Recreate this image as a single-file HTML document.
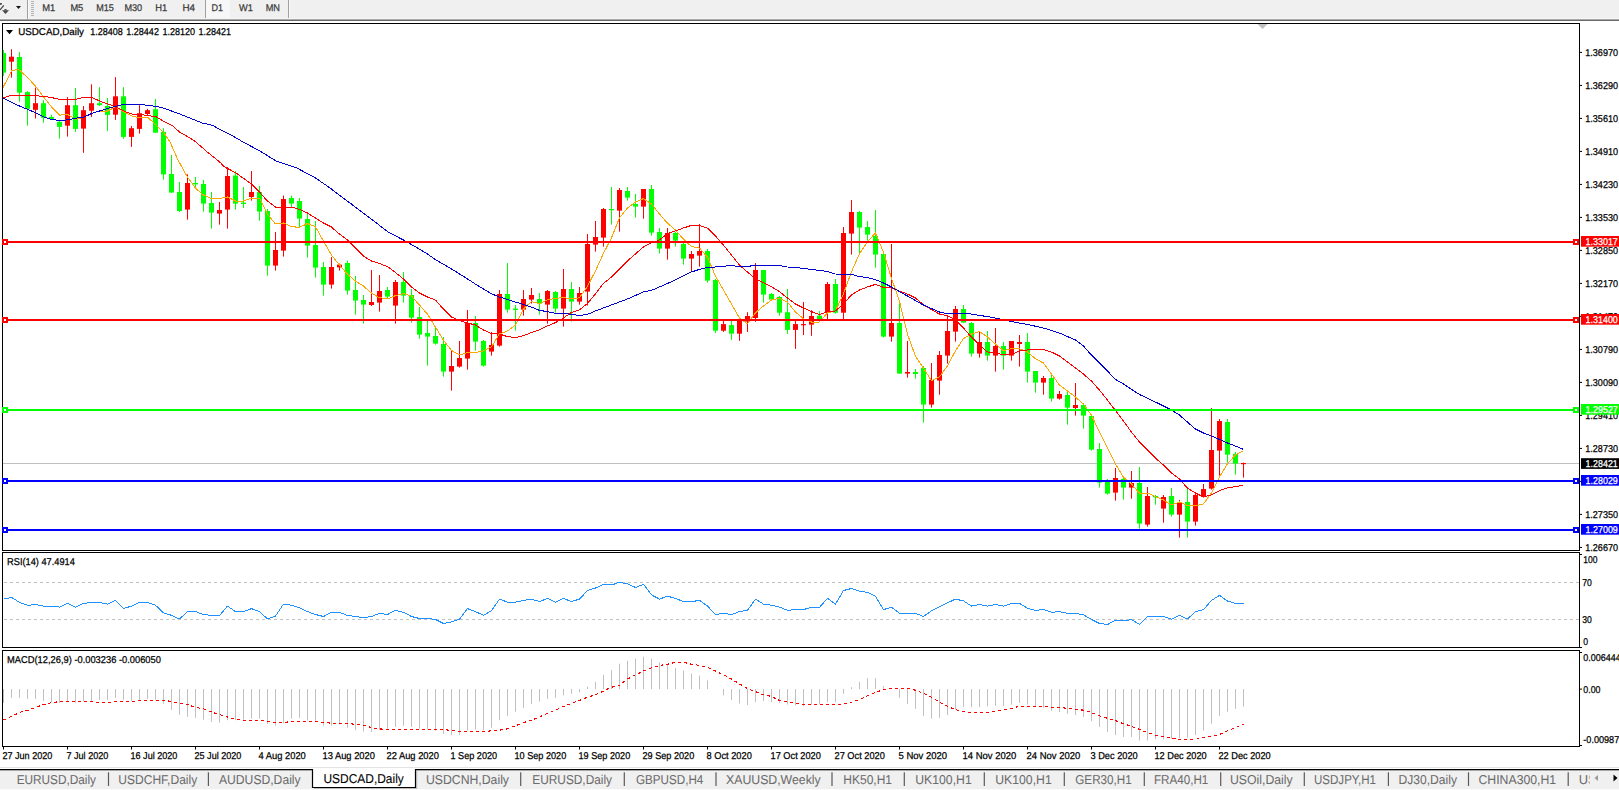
<!DOCTYPE html>
<html><head><meta charset="utf-8"><title>USDCAD,Daily</title>
<style>
html,body{margin:0;padding:0;background:#fff;}
body{width:1619px;height:790px;overflow:hidden;position:relative;font-family:"Liberation Sans", sans-serif;}
svg text{font-family:"Liberation Sans", sans-serif;text-rendering:geometricPrecision;}
</style></head><body>
<svg width="1619" height="790" viewBox="0 0 1619 790" style="position:absolute;left:0;top:0">
<rect x="0" y="0" width="1619" height="790" fill="#fff"/>
<rect x="0" y="0" width="1619" height="19" fill="#f0f0f0"/>
<rect x="0" y="18" width="1619" height="1" fill="#f6f6f6"/>
<rect x="0" y="19" width="1619" height="1" fill="#a8a8a8"/>
<rect x="0" y="20" width="1619" height="1" fill="#6a6a6a"/>
<rect x="27" y="0" width="1" height="19" fill="#a0a0a0"/>
<rect x="31" y="1" width="3" height="1" fill="#b4b4b4"/>
<rect x="31" y="3" width="3" height="1" fill="#b4b4b4"/>
<rect x="31" y="5" width="3" height="1" fill="#b4b4b4"/>
<rect x="31" y="7" width="3" height="1" fill="#b4b4b4"/>
<rect x="31" y="9" width="3" height="1" fill="#b4b4b4"/>
<rect x="31" y="11" width="3" height="1" fill="#b4b4b4"/>
<rect x="31" y="13" width="3" height="1" fill="#b4b4b4"/>
<rect x="31" y="15" width="3" height="1" fill="#b4b4b4"/>
<rect x="205" y="0" width="1" height="18" fill="#a0a0a0"/>
<rect x="288" y="0" width="1" height="18" fill="#a0a0a0"/>
<rect x="206" y="0" width="24" height="18" fill="#f7f7f7"/>
<rect x="0" y="3" width="1.8" height="1.8" fill="#4a4a4a"/>
<path d="M3.8,5.3 L0,9.9" stroke="#444" stroke-width="1.3" fill="none"/>
<path d="M2,10.2 L9,10.2 L5.5,14.1 Z" fill="#484848"/>
<rect x="4.4" y="9.1" width="2.3" height="1.2" fill="#484848"/>
<rect x="28" y="0" width="1" height="18" fill="#fafafa"/>
<rect x="289" y="0" width="1" height="18" fill="#fafafa"/>
<path d="M16,6 L21,6 L18.5,9 Z" fill="#111"/>
<defs><clipPath id="cm"><rect x="3" y="24" width="1576" height="526"/></clipPath></defs>
<g clip-path="url(#cm)">
<rect x="3" y="463" width="1576" height="1" fill="#c0c0c0"/>
<rect x="3.0" y="50.0" width="1" height="25.9" fill="#00ff00"/>
<rect x="1.0" y="53.0" width="5" height="19.6" fill="#00ff00"/>
<rect x="11.0" y="49.2" width="1" height="28.4" fill="#ff0000"/>
<rect x="9.0" y="56.7" width="5" height="5.0" fill="#ff0000"/>
<rect x="19.0" y="52.0" width="1" height="49.8" fill="#00ff00"/>
<rect x="17.0" y="57.0" width="5" height="35.6" fill="#00ff00"/>
<rect x="27.0" y="91.0" width="1" height="34.7" fill="#00ff00"/>
<rect x="25.0" y="92.1" width="5" height="16.7" fill="#00ff00"/>
<rect x="35.0" y="87.6" width="1" height="30.9" fill="#ff0000"/>
<rect x="33.0" y="103.2" width="5" height="6.6" fill="#ff0000"/>
<rect x="43.0" y="100.2" width="1" height="22.5" fill="#00ff00"/>
<rect x="41.0" y="103.2" width="5" height="14.5" fill="#00ff00"/>
<rect x="51.0" y="114.9" width="1" height="4.3" fill="#00ff00"/>
<rect x="49.0" y="116.9" width="5" height="2.0" fill="#00ff00"/>
<rect x="59.0" y="119.9" width="1" height="18.7" fill="#00ff00"/>
<rect x="57.0" y="121.9" width="5" height="5.0" fill="#00ff00"/>
<rect x="67.0" y="97.1" width="1" height="39.5" fill="#ff0000"/>
<rect x="65.0" y="105.2" width="5" height="20.5" fill="#ff0000"/>
<rect x="75.0" y="88.1" width="1" height="43.8" fill="#00ff00"/>
<rect x="73.0" y="105.2" width="5" height="23.7" fill="#00ff00"/>
<rect x="83.0" y="106.0" width="1" height="46.8" fill="#ff0000"/>
<rect x="81.0" y="110.2" width="5" height="18.4" fill="#ff0000"/>
<rect x="91.0" y="84.3" width="1" height="32.6" fill="#ff0000"/>
<rect x="89.0" y="103.2" width="5" height="7.5" fill="#ff0000"/>
<rect x="99.0" y="87.1" width="1" height="18.9" fill="#00ff00"/>
<rect x="97.0" y="103.2" width="5" height="2.0" fill="#00ff00"/>
<rect x="107.0" y="98.1" width="1" height="33.0" fill="#00ff00"/>
<rect x="105.0" y="106.0" width="5" height="8.9" fill="#00ff00"/>
<rect x="115.0" y="77.1" width="1" height="42.8" fill="#ff0000"/>
<rect x="113.0" y="96.3" width="5" height="18.4" fill="#ff0000"/>
<rect x="123.0" y="87.1" width="1" height="51.8" fill="#00ff00"/>
<rect x="121.0" y="96.3" width="5" height="40.6" fill="#00ff00"/>
<rect x="131.0" y="126.0" width="1" height="20.9" fill="#ff0000"/>
<rect x="129.0" y="128.2" width="5" height="8.7" fill="#ff0000"/>
<rect x="139.0" y="105.2" width="1" height="28.4" fill="#ff0000"/>
<rect x="137.0" y="113.2" width="5" height="15.7" fill="#ff0000"/>
<rect x="147.0" y="108.8" width="1" height="6.1" fill="#ff0000"/>
<rect x="145.0" y="110.2" width="5" height="3.8" fill="#ff0000"/>
<rect x="155.0" y="99.0" width="1" height="33.7" fill="#00ff00"/>
<rect x="153.0" y="109.3" width="5" height="23.4" fill="#00ff00"/>
<rect x="163.0" y="128.2" width="1" height="51.4" fill="#00ff00"/>
<rect x="161.0" y="131.9" width="5" height="42.5" fill="#00ff00"/>
<rect x="171.0" y="155.0" width="1" height="37.6" fill="#00ff00"/>
<rect x="169.0" y="174.0" width="5" height="18.6" fill="#00ff00"/>
<rect x="179.0" y="182.0" width="1" height="30.0" fill="#00ff00"/>
<rect x="177.0" y="192.0" width="5" height="19.0" fill="#00ff00"/>
<rect x="187.0" y="174.4" width="1" height="45.2" fill="#ff0000"/>
<rect x="185.0" y="183.0" width="5" height="26.6" fill="#ff0000"/>
<rect x="195.0" y="177.0" width="1" height="11.0" fill="#00ff00"/>
<rect x="193.0" y="183.0" width="5" height="1.4" fill="#00ff00"/>
<rect x="203.0" y="180.0" width="1" height="31.6" fill="#00ff00"/>
<rect x="201.0" y="184.0" width="5" height="19.6" fill="#00ff00"/>
<rect x="211.0" y="192.0" width="1" height="36.6" fill="#00ff00"/>
<rect x="209.0" y="203.0" width="5" height="9.6" fill="#00ff00"/>
<rect x="219.0" y="202.0" width="1" height="22.6" fill="#ff0000"/>
<rect x="217.0" y="210.0" width="5" height="3.6" fill="#ff0000"/>
<rect x="227.0" y="167.0" width="1" height="61.6" fill="#ff0000"/>
<rect x="225.0" y="176.0" width="5" height="33.6" fill="#ff0000"/>
<rect x="235.0" y="171.0" width="1" height="38.6" fill="#00ff00"/>
<rect x="233.0" y="175.6" width="5" height="28.0" fill="#00ff00"/>
<rect x="243.0" y="187.0" width="1" height="21.0" fill="#00ff00"/>
<rect x="241.0" y="202.6" width="5" height="1.4" fill="#00ff00"/>
<rect x="251.0" y="171.0" width="1" height="29.6" fill="#ff0000"/>
<rect x="249.0" y="192.0" width="5" height="5.0" fill="#ff0000"/>
<rect x="259.0" y="186.0" width="1" height="34.6" fill="#00ff00"/>
<rect x="257.0" y="192.0" width="5" height="19.6" fill="#00ff00"/>
<rect x="267.0" y="209.0" width="1" height="66.6" fill="#00ff00"/>
<rect x="265.0" y="211.0" width="5" height="54.6" fill="#00ff00"/>
<rect x="275.0" y="232.0" width="1" height="38.6" fill="#ff0000"/>
<rect x="273.0" y="250.0" width="5" height="15.6" fill="#ff0000"/>
<rect x="283.0" y="195.6" width="1" height="61.0" fill="#ff0000"/>
<rect x="281.0" y="199.0" width="5" height="51.6" fill="#ff0000"/>
<rect x="291.0" y="195.6" width="1" height="11.4" fill="#00ff00"/>
<rect x="289.0" y="198.0" width="5" height="5.6" fill="#00ff00"/>
<rect x="299.0" y="198.0" width="1" height="29.0" fill="#00ff00"/>
<rect x="297.0" y="201.0" width="5" height="17.6" fill="#00ff00"/>
<rect x="307.0" y="214.0" width="1" height="43.6" fill="#00ff00"/>
<rect x="305.0" y="219.0" width="5" height="26.6" fill="#00ff00"/>
<rect x="315.0" y="221.0" width="1" height="56.6" fill="#00ff00"/>
<rect x="313.0" y="245.0" width="5" height="22.6" fill="#00ff00"/>
<rect x="323.0" y="262.0" width="1" height="33.6" fill="#00ff00"/>
<rect x="321.0" y="267.0" width="5" height="17.6" fill="#00ff00"/>
<rect x="331.0" y="257.0" width="1" height="31.6" fill="#ff0000"/>
<rect x="329.0" y="267.0" width="5" height="17.6" fill="#ff0000"/>
<rect x="339.0" y="263.6" width="1" height="7.0" fill="#ff0000"/>
<rect x="337.0" y="264.6" width="5" height="2.8" fill="#ff0000"/>
<rect x="347.0" y="260.6" width="1" height="34.0" fill="#00ff00"/>
<rect x="345.0" y="263.0" width="5" height="27.6" fill="#00ff00"/>
<rect x="355.0" y="276.0" width="1" height="38.6" fill="#00ff00"/>
<rect x="353.0" y="290.0" width="5" height="10.6" fill="#00ff00"/>
<rect x="363.0" y="295.0" width="1" height="28.6" fill="#00ff00"/>
<rect x="361.0" y="300.0" width="5" height="4.6" fill="#00ff00"/>
<rect x="371.0" y="270.0" width="1" height="36.0" fill="#ff0000"/>
<rect x="369.0" y="302.0" width="5" height="3.0" fill="#ff0000"/>
<rect x="379.0" y="275.0" width="1" height="36.6" fill="#ff0000"/>
<rect x="377.0" y="291.0" width="5" height="11.6" fill="#ff0000"/>
<rect x="387.0" y="287.0" width="1" height="11.6" fill="#00ff00"/>
<rect x="385.0" y="290.0" width="5" height="6.6" fill="#00ff00"/>
<rect x="395.0" y="280.0" width="1" height="43.6" fill="#ff0000"/>
<rect x="393.0" y="282.0" width="5" height="23.6" fill="#ff0000"/>
<rect x="403.0" y="272.0" width="1" height="30.6" fill="#00ff00"/>
<rect x="401.0" y="282.0" width="5" height="13.6" fill="#00ff00"/>
<rect x="411.0" y="289.0" width="1" height="33.6" fill="#00ff00"/>
<rect x="409.0" y="295.0" width="5" height="22.6" fill="#00ff00"/>
<rect x="419.0" y="307.0" width="1" height="31.6" fill="#00ff00"/>
<rect x="417.0" y="317.0" width="5" height="17.6" fill="#00ff00"/>
<rect x="427.0" y="320.0" width="1" height="45.6" fill="#00ff00"/>
<rect x="425.0" y="333.0" width="5" height="3.6" fill="#00ff00"/>
<rect x="435.0" y="327.0" width="1" height="17.6" fill="#00ff00"/>
<rect x="433.0" y="336.0" width="5" height="7.6" fill="#00ff00"/>
<rect x="443.0" y="337.0" width="1" height="39.6" fill="#00ff00"/>
<rect x="441.0" y="344.0" width="5" height="27.6" fill="#00ff00"/>
<rect x="451.0" y="351.0" width="1" height="39.6" fill="#ff0000"/>
<rect x="449.0" y="366.0" width="5" height="5.6" fill="#ff0000"/>
<rect x="459.0" y="341.0" width="1" height="26.6" fill="#ff0000"/>
<rect x="457.0" y="358.0" width="5" height="8.6" fill="#ff0000"/>
<rect x="467.0" y="310.0" width="1" height="59.6" fill="#ff0000"/>
<rect x="465.0" y="323.0" width="5" height="35.6" fill="#ff0000"/>
<rect x="475.0" y="316.0" width="1" height="34.6" fill="#00ff00"/>
<rect x="473.0" y="323.0" width="5" height="18.6" fill="#00ff00"/>
<rect x="483.0" y="340.0" width="1" height="26.6" fill="#00ff00"/>
<rect x="481.0" y="341.0" width="5" height="24.6" fill="#00ff00"/>
<rect x="491.0" y="332.0" width="1" height="23.6" fill="#ff0000"/>
<rect x="489.0" y="345.0" width="5" height="6.6" fill="#ff0000"/>
<rect x="499.0" y="290.0" width="1" height="56.6" fill="#ff0000"/>
<rect x="497.0" y="294.0" width="5" height="51.6" fill="#ff0000"/>
<rect x="507.0" y="263.0" width="1" height="49.6" fill="#00ff00"/>
<rect x="505.0" y="294.0" width="5" height="15.6" fill="#00ff00"/>
<rect x="515.0" y="305.0" width="1" height="25.6" fill="#00ff00"/>
<rect x="513.0" y="308.6" width="5" height="1.4" fill="#00ff00"/>
<rect x="523.0" y="290.0" width="1" height="25.6" fill="#ff0000"/>
<rect x="521.0" y="299.0" width="5" height="10.6" fill="#ff0000"/>
<rect x="531.0" y="288.0" width="1" height="15.6" fill="#ff0000"/>
<rect x="529.0" y="295.0" width="5" height="4.6" fill="#ff0000"/>
<rect x="539.0" y="293.0" width="1" height="21.6" fill="#00ff00"/>
<rect x="537.0" y="299.0" width="5" height="4.6" fill="#00ff00"/>
<rect x="547.0" y="290.0" width="1" height="33.6" fill="#ff0000"/>
<rect x="545.0" y="291.0" width="5" height="13.6" fill="#ff0000"/>
<rect x="555.0" y="291.0" width="1" height="21.6" fill="#00ff00"/>
<rect x="553.0" y="292.0" width="5" height="16.6" fill="#00ff00"/>
<rect x="563.0" y="269.0" width="1" height="57.6" fill="#ff0000"/>
<rect x="561.0" y="289.0" width="5" height="19.6" fill="#ff0000"/>
<rect x="571.0" y="282.0" width="1" height="39.6" fill="#00ff00"/>
<rect x="569.0" y="289.0" width="5" height="12.6" fill="#00ff00"/>
<rect x="579.0" y="287.0" width="1" height="17.6" fill="#ff0000"/>
<rect x="577.0" y="293.0" width="5" height="8.6" fill="#ff0000"/>
<rect x="587.0" y="234.0" width="1" height="71.6" fill="#ff0000"/>
<rect x="585.0" y="244.0" width="5" height="47.6" fill="#ff0000"/>
<rect x="595.0" y="221.0" width="1" height="30.6" fill="#ff0000"/>
<rect x="593.0" y="237.0" width="5" height="7.6" fill="#ff0000"/>
<rect x="603.0" y="208.0" width="1" height="38.6" fill="#ff0000"/>
<rect x="601.0" y="209.0" width="5" height="28.6" fill="#ff0000"/>
<rect x="611.0" y="187.0" width="1" height="37.6" fill="#00ff00"/>
<rect x="609.0" y="209.0" width="5" height="1.2" fill="#00ff00"/>
<rect x="619.0" y="188.0" width="1" height="43.6" fill="#ff0000"/>
<rect x="617.0" y="190.0" width="5" height="20.6" fill="#ff0000"/>
<rect x="627.0" y="187.0" width="1" height="13.6" fill="#00ff00"/>
<rect x="625.0" y="191.0" width="5" height="6.6" fill="#00ff00"/>
<rect x="635.0" y="194.0" width="1" height="23.6" fill="#00ff00"/>
<rect x="633.0" y="204.0" width="5" height="2.6" fill="#00ff00"/>
<rect x="643.0" y="189.0" width="1" height="29.6" fill="#ff0000"/>
<rect x="641.0" y="189.0" width="5" height="17.6" fill="#ff0000"/>
<rect x="651.0" y="185.0" width="1" height="50.6" fill="#00ff00"/>
<rect x="649.0" y="189.0" width="5" height="43.6" fill="#00ff00"/>
<rect x="659.0" y="228.0" width="1" height="25.6" fill="#00ff00"/>
<rect x="657.0" y="232.0" width="5" height="16.6" fill="#00ff00"/>
<rect x="667.0" y="228.0" width="1" height="31.6" fill="#ff0000"/>
<rect x="665.0" y="233.0" width="5" height="15.6" fill="#ff0000"/>
<rect x="675.0" y="232.0" width="1" height="14.6" fill="#00ff00"/>
<rect x="673.0" y="233.0" width="5" height="7.6" fill="#00ff00"/>
<rect x="683.0" y="243.0" width="1" height="21.6" fill="#00ff00"/>
<rect x="681.0" y="244.0" width="5" height="14.6" fill="#00ff00"/>
<rect x="691.0" y="251.0" width="1" height="20.6" fill="#ff0000"/>
<rect x="689.0" y="254.0" width="5" height="4.6" fill="#ff0000"/>
<rect x="699.0" y="224.0" width="1" height="42.6" fill="#ff0000"/>
<rect x="697.0" y="251.0" width="5" height="4.6" fill="#ff0000"/>
<rect x="707.0" y="249.0" width="1" height="33.6" fill="#00ff00"/>
<rect x="705.0" y="251.0" width="5" height="29.6" fill="#00ff00"/>
<rect x="715.0" y="279.0" width="1" height="53.9" fill="#00ff00"/>
<rect x="713.0" y="280.0" width="5" height="50.7" fill="#00ff00"/>
<rect x="723.0" y="320.8" width="1" height="11.1" fill="#ff0000"/>
<rect x="721.0" y="324.1" width="5" height="6.6" fill="#ff0000"/>
<rect x="731.0" y="320.8" width="1" height="19.0" fill="#00ff00"/>
<rect x="729.0" y="325.1" width="5" height="8.6" fill="#00ff00"/>
<rect x="739.0" y="318.0" width="1" height="22.8" fill="#ff0000"/>
<rect x="737.0" y="319.3" width="5" height="14.4" fill="#ff0000"/>
<rect x="747.0" y="312.2" width="1" height="19.7" fill="#ff0000"/>
<rect x="745.0" y="316.0" width="5" height="5.6" fill="#ff0000"/>
<rect x="755.0" y="263.0" width="1" height="58.8" fill="#ff0000"/>
<rect x="753.0" y="270.0" width="5" height="48.0" fill="#ff0000"/>
<rect x="763.0" y="270.0" width="1" height="32.6" fill="#00ff00"/>
<rect x="761.0" y="270.0" width="5" height="24.6" fill="#00ff00"/>
<rect x="771.0" y="293.0" width="1" height="7.6" fill="#00ff00"/>
<rect x="769.0" y="294.0" width="5" height="5.6" fill="#00ff00"/>
<rect x="779.0" y="296.0" width="1" height="19.7" fill="#00ff00"/>
<rect x="777.0" y="297.0" width="5" height="15.7" fill="#00ff00"/>
<rect x="787.0" y="289.0" width="1" height="44.9" fill="#00ff00"/>
<rect x="785.0" y="312.2" width="5" height="17.7" fill="#00ff00"/>
<rect x="795.0" y="320.8" width="1" height="28.1" fill="#ff0000"/>
<rect x="793.0" y="324.1" width="5" height="5.8" fill="#ff0000"/>
<rect x="803.0" y="302.0" width="1" height="33.0" fill="#ff0000"/>
<rect x="801.0" y="324.1" width="5" height="1.2" fill="#ff0000"/>
<rect x="811.0" y="310.1" width="1" height="25.7" fill="#ff0000"/>
<rect x="809.0" y="316.0" width="5" height="8.6" fill="#ff0000"/>
<rect x="819.0" y="311.1" width="1" height="8.5" fill="#00ff00"/>
<rect x="817.0" y="315.7" width="5" height="3.9" fill="#00ff00"/>
<rect x="827.0" y="282.0" width="1" height="37.0" fill="#ff0000"/>
<rect x="825.0" y="284.0" width="5" height="28.2" fill="#ff0000"/>
<rect x="835.0" y="279.0" width="1" height="34.7" fill="#00ff00"/>
<rect x="833.0" y="284.0" width="5" height="28.7" fill="#00ff00"/>
<rect x="843.0" y="227.0" width="1" height="92.0" fill="#ff0000"/>
<rect x="841.0" y="233.0" width="5" height="79.7" fill="#ff0000"/>
<rect x="851.0" y="200.0" width="1" height="54.6" fill="#ff0000"/>
<rect x="849.0" y="212.0" width="5" height="21.6" fill="#ff0000"/>
<rect x="859.0" y="211.0" width="1" height="42.6" fill="#00ff00"/>
<rect x="857.0" y="212.0" width="5" height="15.6" fill="#00ff00"/>
<rect x="867.0" y="221.0" width="1" height="19.6" fill="#00ff00"/>
<rect x="865.0" y="227.0" width="5" height="7.6" fill="#00ff00"/>
<rect x="875.0" y="210.0" width="1" height="57.6" fill="#00ff00"/>
<rect x="873.0" y="236.0" width="5" height="18.6" fill="#00ff00"/>
<rect x="883.0" y="254.0" width="1" height="83.6" fill="#00ff00"/>
<rect x="881.0" y="254.0" width="5" height="82.6" fill="#00ff00"/>
<rect x="891.0" y="244.0" width="1" height="97.6" fill="#ff0000"/>
<rect x="889.0" y="323.0" width="5" height="13.6" fill="#ff0000"/>
<rect x="899.0" y="302.0" width="1" height="71.6" fill="#00ff00"/>
<rect x="897.0" y="323.0" width="5" height="50.6" fill="#00ff00"/>
<rect x="907.0" y="341.0" width="1" height="36.6" fill="#ff0000"/>
<rect x="905.0" y="372.0" width="5" height="1.6" fill="#ff0000"/>
<rect x="915.0" y="369.0" width="1" height="9.6" fill="#00ff00"/>
<rect x="913.0" y="372.0" width="5" height="2.0" fill="#00ff00"/>
<rect x="923.0" y="366.0" width="1" height="56.6" fill="#00ff00"/>
<rect x="921.0" y="368.0" width="5" height="36.6" fill="#00ff00"/>
<rect x="931.0" y="363.0" width="1" height="44.6" fill="#ff0000"/>
<rect x="929.0" y="380.0" width="5" height="24.6" fill="#ff0000"/>
<rect x="939.0" y="351.0" width="1" height="43.6" fill="#ff0000"/>
<rect x="937.0" y="355.0" width="5" height="25.6" fill="#ff0000"/>
<rect x="947.0" y="315.0" width="1" height="48.6" fill="#ff0000"/>
<rect x="945.0" y="331.0" width="5" height="24.6" fill="#ff0000"/>
<rect x="955.0" y="306.0" width="1" height="35.6" fill="#ff0000"/>
<rect x="953.0" y="309.0" width="5" height="22.6" fill="#ff0000"/>
<rect x="963.0" y="305.0" width="1" height="17.6" fill="#00ff00"/>
<rect x="961.0" y="309.0" width="5" height="13.6" fill="#00ff00"/>
<rect x="971.0" y="322.0" width="1" height="34.6" fill="#00ff00"/>
<rect x="969.0" y="323.0" width="5" height="30.6" fill="#00ff00"/>
<rect x="979.0" y="331.0" width="1" height="26.6" fill="#ff0000"/>
<rect x="977.0" y="342.0" width="5" height="11.6" fill="#ff0000"/>
<rect x="987.0" y="331.0" width="1" height="29.6" fill="#00ff00"/>
<rect x="985.0" y="342.0" width="5" height="13.6" fill="#00ff00"/>
<rect x="995.0" y="328.0" width="1" height="43.6" fill="#ff0000"/>
<rect x="993.0" y="346.0" width="5" height="9.6" fill="#ff0000"/>
<rect x="1003.0" y="342.0" width="1" height="27.6" fill="#00ff00"/>
<rect x="1001.0" y="346.0" width="5" height="9.6" fill="#00ff00"/>
<rect x="1011.0" y="341.0" width="1" height="19.6" fill="#ff0000"/>
<rect x="1009.0" y="341.0" width="5" height="14.6" fill="#ff0000"/>
<rect x="1019.0" y="335.0" width="1" height="31.6" fill="#ff0000"/>
<rect x="1017.0" y="342.0" width="5" height="2.0" fill="#ff0000"/>
<rect x="1027.0" y="333.0" width="1" height="49.6" fill="#00ff00"/>
<rect x="1025.0" y="342.0" width="5" height="29.6" fill="#00ff00"/>
<rect x="1035.0" y="371.0" width="1" height="21.6" fill="#00ff00"/>
<rect x="1033.0" y="371.0" width="5" height="11.6" fill="#00ff00"/>
<rect x="1043.0" y="376.0" width="1" height="18.6" fill="#ff0000"/>
<rect x="1041.0" y="378.0" width="5" height="4.6" fill="#ff0000"/>
<rect x="1051.0" y="375.0" width="1" height="26.6" fill="#00ff00"/>
<rect x="1049.0" y="378.0" width="5" height="20.6" fill="#00ff00"/>
<rect x="1059.0" y="391.0" width="1" height="8.6" fill="#ff0000"/>
<rect x="1057.0" y="394.0" width="5" height="4.6" fill="#ff0000"/>
<rect x="1067.0" y="390.0" width="1" height="34.6" fill="#00ff00"/>
<rect x="1065.0" y="395.0" width="5" height="12.6" fill="#00ff00"/>
<rect x="1075.0" y="383.0" width="1" height="32.6" fill="#ff0000"/>
<rect x="1073.0" y="405.0" width="5" height="3.0" fill="#ff0000"/>
<rect x="1083.0" y="405.0" width="1" height="23.6" fill="#00ff00"/>
<rect x="1081.0" y="405.0" width="5" height="10.6" fill="#00ff00"/>
<rect x="1091.0" y="416.0" width="1" height="34.6" fill="#00ff00"/>
<rect x="1089.0" y="416.0" width="5" height="33.6" fill="#00ff00"/>
<rect x="1099.0" y="443.0" width="1" height="44.6" fill="#00ff00"/>
<rect x="1097.0" y="449.0" width="5" height="33.6" fill="#00ff00"/>
<rect x="1107.0" y="479.0" width="1" height="15.6" fill="#00ff00"/>
<rect x="1105.0" y="481.0" width="5" height="12.6" fill="#00ff00"/>
<rect x="1115.0" y="468.0" width="1" height="32.6" fill="#ff0000"/>
<rect x="1113.0" y="478.0" width="5" height="14.6" fill="#ff0000"/>
<rect x="1123.0" y="477.0" width="1" height="22.6" fill="#00ff00"/>
<rect x="1121.0" y="479.0" width="5" height="8.6" fill="#00ff00"/>
<rect x="1131.0" y="471.0" width="1" height="27.6" fill="#ff0000"/>
<rect x="1129.0" y="483.0" width="5" height="4.6" fill="#ff0000"/>
<rect x="1139.0" y="467.0" width="1" height="61.6" fill="#00ff00"/>
<rect x="1137.0" y="483.0" width="5" height="40.6" fill="#00ff00"/>
<rect x="1147.0" y="487.0" width="1" height="39.6" fill="#ff0000"/>
<rect x="1145.0" y="496.0" width="5" height="28.6" fill="#ff0000"/>
<rect x="1155.0" y="495.0" width="1" height="9.6" fill="#00ff00"/>
<rect x="1153.0" y="496.0" width="5" height="1.4" fill="#00ff00"/>
<rect x="1163.0" y="495.0" width="1" height="27.6" fill="#ff0000"/>
<rect x="1161.0" y="497.0" width="5" height="11.6" fill="#ff0000"/>
<rect x="1171.0" y="488.0" width="1" height="28.6" fill="#00ff00"/>
<rect x="1169.0" y="496.0" width="5" height="18.6" fill="#00ff00"/>
<rect x="1179.0" y="500.0" width="1" height="37.6" fill="#ff0000"/>
<rect x="1177.0" y="502.0" width="5" height="12.6" fill="#ff0000"/>
<rect x="1187.0" y="489.0" width="1" height="48.6" fill="#00ff00"/>
<rect x="1185.0" y="502.0" width="5" height="19.6" fill="#00ff00"/>
<rect x="1195.0" y="492.0" width="1" height="33.6" fill="#ff0000"/>
<rect x="1193.0" y="495.0" width="5" height="26.6" fill="#ff0000"/>
<rect x="1203.0" y="484.0" width="1" height="13.6" fill="#ff0000"/>
<rect x="1201.0" y="489.0" width="5" height="7.6" fill="#ff0000"/>
<rect x="1211.0" y="408.0" width="1" height="81.6" fill="#ff0000"/>
<rect x="1209.0" y="450.0" width="5" height="38.6" fill="#ff0000"/>
<rect x="1219.0" y="419.0" width="1" height="56.6" fill="#ff0000"/>
<rect x="1217.0" y="421.0" width="5" height="29.6" fill="#ff0000"/>
<rect x="1227.0" y="419.0" width="1" height="43.6" fill="#00ff00"/>
<rect x="1225.0" y="422.0" width="5" height="32.6" fill="#00ff00"/>
<rect x="1235.0" y="452.0" width="1" height="22.6" fill="#00ff00"/>
<rect x="1233.0" y="454.0" width="5" height="9.6" fill="#00ff00"/>
<rect x="1243.0" y="462.6" width="1" height="15.0" fill="#ff0000"/>
<rect x="1241.0" y="463.0" width="5" height="1.2" fill="#ff0000"/>
<polyline points="3.0,87.6 11.4,70.9 18.4,69.2 27.6,77.6 35.4,86.0 43.4,96.8 51.5,106.8 59.5,115.2 67.5,114.4 75.5,119.4 83.5,117.2 91.6,113.5 99.6,111.0 107.6,111.0 115.6,106.8 123.6,111.8 131.7,116.0 139.7,118.0 147.7,117.4 155.7,124.4 163.7,132.7 170.0,142.0 178.0,160.0 187.4,177.0 195.4,188.0 203.4,195.0 211.4,198.6 219.4,198.6 227.4,197.0 235.4,201.0 243.4,201.0 251.4,198.0 259.4,198.0 267.4,214.0 275.4,224.0 283.4,223.0 291.4,226.6 299.4,227.4 307.4,223.6 315.4,226.6 323.4,241.0 331.4,255.0 339.4,265.0 347.4,274.0 355.4,281.0 363.4,286.0 371.4,293.0 379.4,297.6 387.4,299.0 395.4,295.6 403.4,293.6 411.4,296.0 419.4,305.0 427.4,314.0 435.4,327.0 443.4,340.0 451.4,350.4 459.4,355.0 467.4,352.6 475.4,352.6 483.4,351.0 491.4,347.0 499.4,334.0 507.4,331.0 515.4,325.0 523.4,309.0 531.4,301.6 539.4,303.6 547.4,300.0 555.4,298.4 563.4,297.6 571.4,299.0 579.4,297.8 587.4,286.5 595.4,271.0 603.4,253.5 611.4,238.0 619.4,218.0 627.4,208.0 635.4,202.0 643.4,198.6 651.4,204.0 659.4,214.0 667.4,223.0 675.4,230.0 683.4,239.0 691.4,246.6 699.4,248.0 707.4,257.0 715.4,276.0 723.4,290.0 731.4,304.0 739.4,318.0 747.4,324.0 755.4,313.0 763.4,306.0 771.4,300.0 779.4,298.4 787.4,302.0 795.4,312.0 803.4,318.6 811.4,322.0 819.4,322.0 827.4,313.0 835.4,311.0 843.4,294.0 851.4,272.0 859.4,254.0 867.4,242.0 875.4,233.0 883.4,252.0 891.4,278.0 899.4,301.0 907.4,334.0 915.4,356.0 923.4,368.0 931.4,380.6 939.4,377.0 947.4,366.0 955.4,351.0 963.4,338.6 971.4,334.0 979.4,331.6 987.4,337.0 995.4,344.0 1003.4,350.6 1011.4,348.6 1019.4,348.6 1027.4,352.0 1035.4,358.6 1043.4,363.0 1051.4,374.0 1059.4,385.0 1067.4,391.0 1075.4,397.0 1083.4,404.0 1091.4,415.0 1099.4,432.0 1107.4,448.0 1115.4,464.0 1123.4,477.0 1131.4,484.0 1139.4,493.0 1147.4,493.0 1155.4,496.6 1163.4,500.0 1171.4,505.0 1179.4,502.0 1187.4,505.6 1195.4,506.0 1203.4,504.0 1211.4,493.0 1219.4,477.0 1227.4,464.0 1235.4,455.0 1243.4,451.0" fill="none" stroke="#ffa500" stroke-width="1" stroke-linejoin="round" shape-rendering="crispEdges"/>
<polyline points="3.0,98.1 11.4,95.1 19.4,95.1 35.4,95.6 50.1,97.3 59.5,99.3 75.5,99.3 83.5,97.3 91.6,97.3 99.6,101.0 107.6,104.0 115.6,106.5 123.6,111.0 131.7,114.0 139.7,114.0 147.7,115.7 155.7,116.5 163.7,121.4 171.8,125.2 179.8,132.2 193.8,140.3 207.2,151.9 220.6,162.8 224.0,166.6 236.0,173.0 251.4,184.0 259.4,192.0 267.4,201.0 275.4,207.0 291.4,207.0 299.4,209.4 307.4,213.0 315.4,218.0 323.4,223.0 331.4,227.0 339.4,234.0 347.4,240.0 355.4,248.0 363.4,256.0 371.4,261.0 379.4,263.5 387.4,266.5 395.4,272.5 403.4,279.0 411.4,287.0 419.4,293.0 427.4,297.0 435.4,300.0 443.4,309.0 451.4,317.0 459.4,320.6 467.4,323.0 475.4,325.0 483.4,330.0 491.4,333.6 499.4,334.0 507.4,336.6 515.4,337.6 523.4,335.6 531.4,332.6 539.4,330.0 547.4,326.0 555.4,322.6 563.4,318.0 571.4,312.5 579.4,310.0 587.4,303.5 595.4,294.0 603.4,283.5 611.4,277.0 619.4,269.0 627.4,261.0 635.4,254.0 643.4,247.0 651.4,243.0 659.4,240.0 667.4,233.6 675.4,231.0 683.4,228.0 691.4,225.4 699.4,225.4 707.4,228.0 715.4,236.0 723.4,245.0 731.4,255.0 739.4,265.0 747.4,272.0 755.4,278.6 763.4,282.6 771.4,286.6 779.4,291.6 787.4,298.0 795.4,304.0 803.4,308.0 811.4,311.6 819.4,314.4 827.4,312.0 835.4,311.0 843.4,304.0 851.4,295.0 859.4,290.0 867.4,287.0 875.4,284.4 883.4,287.3 891.4,288.0 899.4,291.0 907.4,294.0 915.4,298.0 923.4,304.6 931.4,309.6 939.4,314.0 947.4,315.6 955.4,320.0 963.4,328.0 971.4,337.0 979.4,345.0 987.4,352.0 995.4,352.4 1003.4,355.0 1011.4,354.4 1019.4,351.0 1027.4,350.0 1035.4,349.4 1043.4,349.4 1051.4,352.0 1059.4,356.0 1067.4,362.0 1075.4,368.0 1083.4,374.0 1091.4,381.0 1099.4,390.0 1107.4,400.0 1115.4,410.5 1123.4,421.0 1131.4,432.0 1139.4,442.0 1147.4,450.0 1155.4,458.0 1163.4,465.0 1171.4,473.0 1179.4,479.0 1187.4,488.0 1195.4,493.0 1203.4,497.0 1211.4,495.0 1219.4,490.6 1227.4,488.0 1235.4,486.6 1243.4,485.4" fill="none" stroke="#ff0000" stroke-width="1" stroke-linejoin="round" shape-rendering="crispEdges"/>
<polyline points="3.0,98.1 11.4,102.2 19.4,106.0 27.4,109.3 35.4,112.7 43.4,116.9 51.5,119.4 59.5,120.5 67.5,119.9 75.5,118.2 83.5,117.4 91.6,113.5 99.6,111.0 107.6,108.5 115.6,106.3 123.6,104.3 142.0,104.3 147.7,105.5 155.7,106.3 163.7,108.2 179.8,114.0 202.2,123.0 212.2,125.2 221.0,130.0 230.6,134.6 243.0,142.0 260.0,151.0 276.0,161.0 296.0,167.6 315.0,177.6 330.0,188.0 350.0,203.0 370.0,218.0 388.0,232.0 404.0,240.3 414.0,246.0 426.0,253.0 436.0,260.0 450.0,268.0 466.0,278.0 480.0,287.0 492.0,294.0 499.4,297.0 515.4,302.0 531.4,307.0 539.4,310.4 547.4,311.6 555.4,313.4 563.4,313.6 571.4,314.2 579.4,315.5 587.4,314.4 595.4,311.0 611.4,305.0 627.4,299.0 643.4,292.0 651.4,290.4 659.4,287.0 675.4,280.0 691.4,272.0 699.4,269.4 707.4,267.4 715.4,267.0 730.0,265.6 739.4,266.4 747.4,266.4 755.4,265.4 779.4,265.4 787.4,267.0 795.4,267.4 811.4,269.4 827.4,271.4 835.4,274.0 851.4,274.4 859.4,276.6 867.4,277.6 875.4,279.6 883.4,283.0 891.4,287.0 907.4,296.0 923.4,305.0 939.4,312.0 947.4,313.6 955.4,313.0 963.4,313.0 971.4,314.0 979.4,315.4 987.4,316.6 995.4,318.0 1011.4,321.6 1027.4,324.4 1043.4,328.0 1059.4,333.0 1075.4,340.0 1083.4,346.0 1091.4,355.0 1099.4,363.0 1107.4,371.0 1115.4,379.4 1123.4,384.0 1139.4,394.5 1155.4,402.0 1171.4,410.0 1179.4,415.0 1187.4,422.0 1195.4,429.0 1203.4,433.0 1211.4,436.0 1219.4,439.4 1227.4,443.0 1235.4,446.0 1243.4,449.4" fill="none" stroke="#0000cd" stroke-width="1" stroke-linejoin="round" shape-rendering="crispEdges"/>
</g>
<path d="M1257.5,24 L1267.5,24 L1262.5,29 Z" fill="#c0c0c0"/>
<rect x="3" y="241" width="1576" height="2" fill="#ff0000"/>
<rect x="3" y="319" width="1576" height="2" fill="#ff0000"/>
<rect x="3" y="409" width="1576" height="2" fill="#00ff00"/>
<rect x="3" y="480" width="1576" height="2" fill="#0000ff"/>
<rect x="3" y="529" width="1576" height="2" fill="#0000ff"/>
<rect x="2.5" y="23.5" width="1577" height="527" fill="none" stroke="#000" stroke-width="1"/>
<rect x="2.5" y="552.5" width="1577" height="95" fill="none" stroke="#000" stroke-width="1"/>
<rect x="2.5" y="650.5" width="1577" height="96" fill="none" stroke="#000" stroke-width="1"/>
<rect x="2" y="239" width="6" height="6" fill="#ff0000"/>
<rect x="4" y="241" width="2" height="2" fill="#fff"/>
<rect x="1573" y="239" width="6" height="6" fill="#ff0000"/>
<rect x="1575" y="241" width="2" height="2" fill="#fff"/>
<rect x="2" y="317" width="6" height="6" fill="#ff0000"/>
<rect x="4" y="319" width="2" height="2" fill="#fff"/>
<rect x="1573" y="317" width="6" height="6" fill="#ff0000"/>
<rect x="1575" y="319" width="2" height="2" fill="#fff"/>
<rect x="2" y="407" width="6" height="6" fill="#00ff00"/>
<rect x="4" y="409" width="2" height="2" fill="#fff"/>
<rect x="1573" y="407" width="6" height="6" fill="#00ff00"/>
<rect x="1575" y="409" width="2" height="2" fill="#fff"/>
<rect x="2" y="478" width="6" height="6" fill="#0000ff"/>
<rect x="4" y="480" width="2" height="2" fill="#fff"/>
<rect x="1573" y="478" width="6" height="6" fill="#0000ff"/>
<rect x="1575" y="480" width="2" height="2" fill="#fff"/>
<rect x="2" y="527" width="6" height="6" fill="#0000ff"/>
<rect x="4" y="529" width="2" height="2" fill="#fff"/>
<rect x="1573" y="527" width="6" height="6" fill="#0000ff"/>
<rect x="1575" y="529" width="2" height="2" fill="#fff"/>
<path d="M6,30 L13,30 L9.5,34.2 Z" fill="#000"/>
<g>
<line x1="4" y1="582.5" x2="1579" y2="582.5" stroke="#c0c0c0" stroke-width="1" stroke-dasharray="3,3" shape-rendering="crispEdges"/>
<line x1="4" y1="619.5" x2="1579" y2="619.5" stroke="#c0c0c0" stroke-width="1" stroke-dasharray="3,3" shape-rendering="crispEdges"/>
<polyline points="3.5,599.1 11.5,597.4 19.5,602.4 27.5,605.3 35.5,604.6 43.5,606.1 51.5,606.1 59.5,607.1 67.5,603.4 75.5,607.1 83.5,603.4 91.5,602.4 99.5,602.4 107.5,604.1 115.5,600.4 123.5,608.6 131.5,606.1 139.5,602.4 147.5,602.4 155.5,605.3 163.5,612.8 171.5,615.3 179.5,619.0 187.5,611.6 195.5,611.6 203.5,614.5 211.5,615.5 219.5,615.5 227.5,606.1 235.5,611.6 243.5,611.6 251.5,608.6 259.5,611.6 267.5,619.0 275.5,616.0 283.5,604.1 291.5,605.3 299.5,607.8 307.5,611.6 315.5,614.5 323.5,616.5 331.5,612.3 339.5,612.3 347.5,615.5 355.5,616.5 363.5,617.8 371.5,616.5 379.5,613.3 387.5,614.5 395.5,610.3 403.5,612.3 411.5,616.5 419.5,618.5 427.5,618.5 435.5,619.5 443.5,623.5 451.5,622.0 459.5,619.0 467.5,608.6 475.5,611.6 483.5,615.3 491.5,610.8 499.5,599.1 507.5,602.1 515.5,602.1 523.5,600.4 531.5,599.1 539.5,601.6 547.5,598.4 555.5,602.1 563.5,598.4 571.5,601.6 579.5,599.1 587.5,590.5 595.5,588.0 603.5,584.3 611.5,585.0 619.5,582.3 627.5,583.8 635.5,587.5 643.5,584.3 651.5,594.9 659.5,599.1 667.5,596.2 675.5,598.4 683.5,601.6 691.5,601.6 699.5,600.4 707.5,606.1 715.5,614.5 723.5,613.3 731.5,614.5 739.5,611.6 747.5,610.3 755.5,599.1 763.5,604.1 771.5,605.3 779.5,607.1 787.5,610.3 795.5,609.6 803.5,609.6 811.5,607.3 819.5,607.3 827.5,598.4 835.5,604.1 843.5,590.5 851.5,588.5 859.5,591.2 867.5,592.4 875.5,596.2 883.5,609.6 891.5,607.3 899.5,613.3 907.5,613.3 915.5,613.3 923.5,616.5 931.5,610.8 939.5,606.6 947.5,602.9 955.5,599.1 963.5,600.9 971.5,606.1 979.5,604.6 987.5,606.1 995.5,604.6 1003.5,606.1 1011.5,603.4 1019.5,603.4 1027.5,608.3 1035.5,610.3 1043.5,609.6 1051.5,612.3 1059.5,611.6 1067.5,613.3 1075.5,613.3 1083.5,614.8 1091.5,619.5 1099.5,623.5 1107.5,624.5 1115.5,620.2 1123.5,621.0 1131.5,619.5 1139.5,624.5 1147.5,616.5 1155.5,616.5 1163.5,616.5 1171.5,619.2 1179.5,615.3 1187.5,619.0 1195.5,611.6 1203.5,609.6 1211.5,600.4 1219.5,595.4 1227.5,601.1 1235.5,603.4 1243.5,603.4" fill="none" stroke="#1e90ff" stroke-width="1" stroke-linejoin="round" shape-rendering="crispEdges"/>
</g>
<rect x="3.0" y="689.0" width="1" height="13.9" fill="#c0c0c0"/>
<rect x="11.0" y="689.0" width="1" height="8.9" fill="#c0c0c0"/>
<rect x="19.0" y="689.0" width="1" height="8.9" fill="#c0c0c0"/>
<rect x="27.0" y="689.0" width="1" height="9.9" fill="#c0c0c0"/>
<rect x="35.0" y="689.0" width="1" height="9.9" fill="#c0c0c0"/>
<rect x="43.0" y="689.0" width="1" height="11.8" fill="#c0c0c0"/>
<rect x="51.0" y="689.0" width="1" height="13.2" fill="#c0c0c0"/>
<rect x="59.0" y="689.0" width="1" height="13.9" fill="#c0c0c0"/>
<rect x="67.0" y="689.0" width="1" height="13.2" fill="#c0c0c0"/>
<rect x="75.0" y="689.0" width="1" height="13.9" fill="#c0c0c0"/>
<rect x="83.0" y="689.0" width="1" height="12.2" fill="#c0c0c0"/>
<rect x="91.0" y="689.0" width="1" height="11.8" fill="#c0c0c0"/>
<rect x="99.0" y="689.0" width="1" height="10.8" fill="#c0c0c0"/>
<rect x="107.0" y="689.0" width="1" height="10.8" fill="#c0c0c0"/>
<rect x="115.0" y="689.0" width="1" height="8.9" fill="#c0c0c0"/>
<rect x="123.0" y="689.0" width="1" height="10.8" fill="#c0c0c0"/>
<rect x="131.0" y="689.0" width="1" height="11.8" fill="#c0c0c0"/>
<rect x="139.0" y="689.0" width="1" height="10.8" fill="#c0c0c0"/>
<rect x="147.0" y="689.0" width="1" height="9.9" fill="#c0c0c0"/>
<rect x="155.0" y="689.0" width="1" height="10.8" fill="#c0c0c0"/>
<rect x="163.0" y="689.0" width="1" height="14.7" fill="#c0c0c0"/>
<rect x="171.0" y="689.0" width="1" height="20.9" fill="#c0c0c0"/>
<rect x="179.0" y="689.0" width="1" height="25.8" fill="#c0c0c0"/>
<rect x="187.0" y="689.0" width="1" height="27.8" fill="#c0c0c0"/>
<rect x="195.0" y="689.0" width="1" height="28.8" fill="#c0c0c0"/>
<rect x="203.0" y="689.0" width="1" height="30.7" fill="#c0c0c0"/>
<rect x="211.0" y="689.0" width="1" height="33.0" fill="#c0c0c0"/>
<rect x="219.0" y="689.0" width="1" height="33.7" fill="#c0c0c0"/>
<rect x="227.0" y="689.0" width="1" height="31.2" fill="#c0c0c0"/>
<rect x="235.0" y="689.0" width="1" height="31.2" fill="#c0c0c0"/>
<rect x="243.0" y="689.0" width="1" height="30.5" fill="#c0c0c0"/>
<rect x="251.0" y="689.0" width="1" height="29.7" fill="#c0c0c0"/>
<rect x="259.0" y="689.0" width="1" height="29.7" fill="#c0c0c0"/>
<rect x="267.0" y="689.0" width="1" height="35.0" fill="#c0c0c0"/>
<rect x="275.0" y="689.0" width="1" height="36.7" fill="#c0c0c0"/>
<rect x="283.0" y="689.0" width="1" height="34.2" fill="#c0c0c0"/>
<rect x="291.0" y="689.0" width="1" height="29.7" fill="#c0c0c0"/>
<rect x="299.0" y="689.0" width="1" height="28.8" fill="#c0c0c0"/>
<rect x="307.0" y="689.0" width="1" height="31.7" fill="#c0c0c0"/>
<rect x="315.0" y="689.0" width="1" height="32.5" fill="#c0c0c0"/>
<rect x="323.0" y="689.0" width="1" height="36.7" fill="#c0c0c0"/>
<rect x="331.0" y="689.0" width="1" height="36.7" fill="#c0c0c0"/>
<rect x="339.0" y="689.0" width="1" height="35.5" fill="#c0c0c0"/>
<rect x="347.0" y="689.0" width="1" height="38.7" fill="#c0c0c0"/>
<rect x="355.0" y="689.0" width="1" height="41.2" fill="#c0c0c0"/>
<rect x="363.0" y="689.0" width="1" height="42.4" fill="#c0c0c0"/>
<rect x="371.0" y="689.0" width="1" height="42.9" fill="#c0c0c0"/>
<rect x="379.0" y="689.0" width="1" height="41.2" fill="#c0c0c0"/>
<rect x="387.0" y="689.0" width="1" height="39.7" fill="#c0c0c0"/>
<rect x="395.0" y="689.0" width="1" height="37.9" fill="#c0c0c0"/>
<rect x="403.0" y="689.0" width="1" height="36.7" fill="#c0c0c0"/>
<rect x="411.0" y="689.0" width="1" height="37.9" fill="#c0c0c0"/>
<rect x="419.0" y="689.0" width="1" height="39.7" fill="#c0c0c0"/>
<rect x="427.0" y="689.0" width="1" height="40.4" fill="#c0c0c0"/>
<rect x="435.0" y="689.0" width="1" height="41.7" fill="#c0c0c0"/>
<rect x="443.0" y="689.0" width="1" height="44.9" fill="#c0c0c0"/>
<rect x="451.0" y="689.0" width="1" height="46.1" fill="#c0c0c0"/>
<rect x="459.0" y="689.0" width="1" height="46.1" fill="#c0c0c0"/>
<rect x="467.0" y="689.0" width="1" height="41.7" fill="#c0c0c0"/>
<rect x="475.0" y="689.0" width="1" height="40.4" fill="#c0c0c0"/>
<rect x="483.0" y="689.0" width="1" height="41.2" fill="#c0c0c0"/>
<rect x="491.0" y="689.0" width="1" height="38.7" fill="#c0c0c0"/>
<rect x="499.0" y="689.0" width="1" height="31.2" fill="#c0c0c0"/>
<rect x="507.0" y="689.0" width="1" height="26.8" fill="#c0c0c0"/>
<rect x="515.0" y="689.0" width="1" height="22.6" fill="#c0c0c0"/>
<rect x="523.0" y="689.0" width="1" height="18.8" fill="#c0c0c0"/>
<rect x="531.0" y="689.0" width="1" height="14.9" fill="#c0c0c0"/>
<rect x="539.0" y="689.0" width="1" height="12.6" fill="#c0c0c0"/>
<rect x="547.0" y="689.0" width="1" height="9.9" fill="#c0c0c0"/>
<rect x="555.0" y="689.0" width="1" height="8.9" fill="#c0c0c0"/>
<rect x="563.0" y="689.0" width="1" height="6.4" fill="#c0c0c0"/>
<rect x="571.0" y="689.0" width="1" height="4.9" fill="#c0c0c0"/>
<rect x="579.0" y="689.0" width="1" height="3.2" fill="#c0c0c0"/>
<rect x="587.0" y="686.7" width="1" height="2.3" fill="#c0c0c0"/>
<rect x="595.0" y="681.8" width="1" height="7.2" fill="#c0c0c0"/>
<rect x="603.0" y="674.8" width="1" height="14.2" fill="#c0c0c0"/>
<rect x="611.0" y="669.9" width="1" height="19.1" fill="#c0c0c0"/>
<rect x="619.0" y="663.7" width="1" height="25.3" fill="#c0c0c0"/>
<rect x="627.0" y="660.7" width="1" height="28.3" fill="#c0c0c0"/>
<rect x="635.0" y="658.7" width="1" height="30.3" fill="#c0c0c0"/>
<rect x="643.0" y="656.7" width="1" height="32.3" fill="#c0c0c0"/>
<rect x="651.0" y="658.7" width="1" height="30.3" fill="#c0c0c0"/>
<rect x="659.0" y="662.4" width="1" height="26.6" fill="#c0c0c0"/>
<rect x="667.0" y="664.9" width="1" height="24.1" fill="#c0c0c0"/>
<rect x="675.0" y="667.9" width="1" height="21.1" fill="#c0c0c0"/>
<rect x="683.0" y="670.6" width="1" height="18.4" fill="#c0c0c0"/>
<rect x="691.0" y="673.6" width="1" height="15.4" fill="#c0c0c0"/>
<rect x="699.0" y="675.6" width="1" height="13.4" fill="#c0c0c0"/>
<rect x="707.0" y="680.5" width="1" height="8.5" fill="#c0c0c0"/>
<rect x="723.0" y="689.0" width="1" height="6.4" fill="#c0c0c0"/>
<rect x="731.0" y="689.0" width="1" height="11.1" fill="#c0c0c0"/>
<rect x="739.0" y="689.0" width="1" height="14.4" fill="#c0c0c0"/>
<rect x="747.0" y="689.0" width="1" height="16.1" fill="#c0c0c0"/>
<rect x="755.0" y="689.0" width="1" height="13.1" fill="#c0c0c0"/>
<rect x="763.0" y="689.0" width="1" height="11.9" fill="#c0c0c0"/>
<rect x="771.0" y="689.0" width="1" height="13.1" fill="#c0c0c0"/>
<rect x="779.0" y="689.0" width="1" height="13.9" fill="#c0c0c0"/>
<rect x="787.0" y="689.0" width="1" height="15.6" fill="#c0c0c0"/>
<rect x="795.0" y="689.0" width="1" height="16.3" fill="#c0c0c0"/>
<rect x="803.0" y="689.0" width="1" height="17.3" fill="#c0c0c0"/>
<rect x="811.0" y="689.0" width="1" height="15.6" fill="#c0c0c0"/>
<rect x="819.0" y="689.0" width="1" height="15.1" fill="#c0c0c0"/>
<rect x="827.0" y="689.0" width="1" height="13.1" fill="#c0c0c0"/>
<rect x="835.0" y="689.0" width="1" height="13.1" fill="#c0c0c0"/>
<rect x="843.0" y="689.0" width="1" height="4.9" fill="#c0c0c0"/>
<rect x="851.0" y="687.2" width="1" height="1.8" fill="#c0c0c0"/>
<rect x="859.0" y="681.8" width="1" height="7.2" fill="#c0c0c0"/>
<rect x="867.0" y="678.1" width="1" height="10.9" fill="#c0c0c0"/>
<rect x="875.0" y="678.1" width="1" height="10.9" fill="#c0c0c0"/>
<rect x="883.0" y="686.0" width="1" height="3.0" fill="#c0c0c0"/>
<rect x="899.0" y="689.0" width="1" height="8.9" fill="#c0c0c0"/>
<rect x="907.0" y="689.0" width="1" height="14.9" fill="#c0c0c0"/>
<rect x="915.0" y="689.0" width="1" height="19.8" fill="#c0c0c0"/>
<rect x="923.0" y="689.0" width="1" height="26.8" fill="#c0c0c0"/>
<rect x="931.0" y="689.0" width="1" height="29.7" fill="#c0c0c0"/>
<rect x="939.0" y="689.0" width="1" height="28.8" fill="#c0c0c0"/>
<rect x="947.0" y="689.0" width="1" height="26.0" fill="#c0c0c0"/>
<rect x="955.0" y="689.0" width="1" height="20.6" fill="#c0c0c0"/>
<rect x="963.0" y="689.0" width="1" height="18.1" fill="#c0c0c0"/>
<rect x="971.0" y="689.0" width="1" height="18.1" fill="#c0c0c0"/>
<rect x="979.0" y="689.0" width="1" height="18.1" fill="#c0c0c0"/>
<rect x="987.0" y="689.0" width="1" height="17.3" fill="#c0c0c0"/>
<rect x="995.0" y="689.0" width="1" height="16.8" fill="#c0c0c0"/>
<rect x="1003.0" y="689.0" width="1" height="16.8" fill="#c0c0c0"/>
<rect x="1011.0" y="689.0" width="1" height="15.6" fill="#c0c0c0"/>
<rect x="1019.0" y="689.0" width="1" height="13.9" fill="#c0c0c0"/>
<rect x="1027.0" y="689.0" width="1" height="15.6" fill="#c0c0c0"/>
<rect x="1035.0" y="689.0" width="1" height="17.3" fill="#c0c0c0"/>
<rect x="1043.0" y="689.0" width="1" height="18.8" fill="#c0c0c0"/>
<rect x="1051.0" y="689.0" width="1" height="21.8" fill="#c0c0c0"/>
<rect x="1059.0" y="689.0" width="1" height="23.0" fill="#c0c0c0"/>
<rect x="1067.0" y="689.0" width="1" height="24.8" fill="#c0c0c0"/>
<rect x="1075.0" y="689.0" width="1" height="26.0" fill="#c0c0c0"/>
<rect x="1083.0" y="689.0" width="1" height="28.0" fill="#c0c0c0"/>
<rect x="1091.0" y="689.0" width="1" height="32.2" fill="#c0c0c0"/>
<rect x="1099.0" y="689.0" width="1" height="37.9" fill="#c0c0c0"/>
<rect x="1107.0" y="689.0" width="1" height="42.9" fill="#c0c0c0"/>
<rect x="1115.0" y="689.0" width="1" height="46.1" fill="#c0c0c0"/>
<rect x="1123.0" y="689.0" width="1" height="47.9" fill="#c0c0c0"/>
<rect x="1131.0" y="689.0" width="1" height="47.9" fill="#c0c0c0"/>
<rect x="1139.0" y="689.0" width="1" height="51.6" fill="#c0c0c0"/>
<rect x="1147.0" y="689.0" width="1" height="51.6" fill="#c0c0c0"/>
<rect x="1155.0" y="689.0" width="1" height="50.3" fill="#c0c0c0"/>
<rect x="1163.0" y="689.0" width="1" height="50.3" fill="#c0c0c0"/>
<rect x="1171.0" y="689.0" width="1" height="49.6" fill="#c0c0c0"/>
<rect x="1179.0" y="689.0" width="1" height="49.1" fill="#c0c0c0"/>
<rect x="1187.0" y="689.0" width="1" height="48.6" fill="#c0c0c0"/>
<rect x="1195.0" y="689.0" width="1" height="46.1" fill="#c0c0c0"/>
<rect x="1203.0" y="689.0" width="1" height="41.7" fill="#c0c0c0"/>
<rect x="1211.0" y="689.0" width="1" height="34.7" fill="#c0c0c0"/>
<rect x="1219.0" y="689.0" width="1" height="26.8" fill="#c0c0c0"/>
<rect x="1227.0" y="689.0" width="1" height="22.6" fill="#c0c0c0"/>
<rect x="1235.0" y="689.0" width="1" height="19.8" fill="#c0c0c0"/>
<rect x="1243.0" y="689.0" width="1" height="17.6" fill="#c0c0c0"/>
<polyline points="3.5,720.1 11.5,716.4 19.5,712.4 27.5,710.3 35.5,707.4 43.5,704.7 51.5,702.6 59.5,701.6 67.5,701.6 75.5,701.6 83.5,701.6 91.5,701.6 99.5,702.6 107.5,702.6 115.5,701.6 123.5,701.6 131.5,701.6 139.5,700.4 147.5,700.4 155.5,700.4 163.5,700.4 171.5,701.4 179.5,703.5 187.5,704.7 195.5,707.4 203.5,708.8 211.5,712.0 219.5,714.5 227.5,717.0 235.5,719.0 243.5,720.2 251.5,720.2 259.5,720.2 267.5,721.5 275.5,722.5 283.5,722.5 291.5,721.5 299.5,721.5 307.5,721.5 315.5,721.5 323.5,722.5 331.5,723.2 339.5,723.2 347.5,723.2 355.5,724.5 363.5,725.2 371.5,727.7 379.5,728.9 387.5,729.4 395.5,729.4 403.5,729.4 411.5,729.4 419.5,729.4 427.5,729.4 435.5,729.4 443.5,729.4 451.5,730.7 459.5,731.2 467.5,731.2 475.5,731.2 483.5,731.9 491.5,730.7 499.5,730.2 507.5,728.9 515.5,725.7 523.5,722.7 531.5,720.2 539.5,717.0 547.5,713.3 555.5,710.1 563.5,706.3 571.5,703.4 579.5,700.4 587.5,697.2 595.5,694.7 603.5,691.0 611.5,687.2 619.5,685.3 627.5,679.0 635.5,674.8 643.5,671.1 651.5,667.9 659.5,665.4 667.5,664.2 675.5,662.4 683.5,662.4 691.5,664.2 699.5,665.4 707.5,667.4 715.5,671.1 723.5,674.8 731.5,679.0 739.5,684.0 747.5,688.5 755.5,691.7 763.5,694.7 771.5,696.4 779.5,700.4 787.5,702.1 795.5,703.4 803.5,704.6 811.5,704.6 819.5,704.6 827.5,704.6 835.5,704.6 843.5,704.1 851.5,702.1 859.5,699.6 867.5,695.9 875.5,692.2 883.5,689.7 891.5,688.5 899.5,688.5 907.5,688.5 915.5,690.2 923.5,693.4 931.5,697.2 939.5,702.1 947.5,706.3 955.5,709.6 963.5,711.6 971.5,712.5 979.5,712.5 987.5,712.5 995.5,711.6 1003.5,709.6 1011.5,708.3 1019.5,706.3 1027.5,706.3 1035.5,706.3 1043.5,706.3 1051.5,707.6 1059.5,707.6 1067.5,708.3 1075.5,709.6 1083.5,710.1 1091.5,712.5 1099.5,715.8 1107.5,718.3 1115.5,720.7 1123.5,723.7 1131.5,726.4 1139.5,729.4 1147.5,732.6 1155.5,735.1 1163.5,736.9 1171.5,738.1 1179.5,739.3 1187.5,739.3 1195.5,739.3 1203.5,737.6 1211.5,736.4 1219.5,734.4 1227.5,730.7 1235.5,727.7 1243.5,724.0" fill="none" stroke="#ff0000" stroke-width="1.1" stroke-dasharray="3,3" shape-rendering="crispEdges"/>
<rect x="1580" y="51.9" width="2" height="1" fill="#000"/>
<text x="1585.3" y="56.05" font-family='"Liberation Sans", sans-serif' font-size="9.9" fill="#000" stroke="#000" stroke-width="0.25" text-anchor="start" textLength="32.7" lengthAdjust="spacingAndGlyphs">1.36970</text>
<rect x="1580" y="84.9" width="2" height="1" fill="#000"/>
<text x="1585.3" y="89.05" font-family='"Liberation Sans", sans-serif' font-size="9.9" fill="#000" stroke="#000" stroke-width="0.25" text-anchor="start" textLength="32.7" lengthAdjust="spacingAndGlyphs">1.36290</text>
<rect x="1580" y="117.9" width="2" height="1" fill="#000"/>
<text x="1585.3" y="122.05" font-family='"Liberation Sans", sans-serif' font-size="9.9" fill="#000" stroke="#000" stroke-width="0.25" text-anchor="start" textLength="32.7" lengthAdjust="spacingAndGlyphs">1.35610</text>
<rect x="1580" y="150.9" width="2" height="1" fill="#000"/>
<text x="1585.3" y="155.05" font-family='"Liberation Sans", sans-serif' font-size="9.9" fill="#000" stroke="#000" stroke-width="0.25" text-anchor="start" textLength="32.7" lengthAdjust="spacingAndGlyphs">1.34910</text>
<rect x="1580" y="183.9" width="2" height="1" fill="#000"/>
<text x="1585.3" y="188.05" font-family='"Liberation Sans", sans-serif' font-size="9.9" fill="#000" stroke="#000" stroke-width="0.25" text-anchor="start" textLength="32.7" lengthAdjust="spacingAndGlyphs">1.34230</text>
<rect x="1580" y="216.9" width="2" height="1" fill="#000"/>
<text x="1585.3" y="221.05" font-family='"Liberation Sans", sans-serif' font-size="9.9" fill="#000" stroke="#000" stroke-width="0.25" text-anchor="start" textLength="32.7" lengthAdjust="spacingAndGlyphs">1.33530</text>
<rect x="1580" y="249.9" width="2" height="1" fill="#000"/>
<text x="1585.3" y="254.05" font-family='"Liberation Sans", sans-serif' font-size="9.9" fill="#000" stroke="#000" stroke-width="0.25" text-anchor="start" textLength="32.7" lengthAdjust="spacingAndGlyphs">1.32850</text>
<rect x="1580" y="282.9" width="2" height="1" fill="#000"/>
<text x="1585.3" y="287.05" font-family='"Liberation Sans", sans-serif' font-size="9.9" fill="#000" stroke="#000" stroke-width="0.25" text-anchor="start" textLength="32.7" lengthAdjust="spacingAndGlyphs">1.32170</text>
<rect x="1580" y="315.9" width="2" height="1" fill="#000"/>
<text x="1585.3" y="320.05" font-family='"Liberation Sans", sans-serif' font-size="9.9" fill="#000" stroke="#000" stroke-width="0.25" text-anchor="start" textLength="32.7" lengthAdjust="spacingAndGlyphs">1.31470</text>
<rect x="1580" y="348.9" width="2" height="1" fill="#000"/>
<text x="1585.3" y="353.05" font-family='"Liberation Sans", sans-serif' font-size="9.9" fill="#000" stroke="#000" stroke-width="0.25" text-anchor="start" textLength="32.7" lengthAdjust="spacingAndGlyphs">1.30790</text>
<rect x="1580" y="381.9" width="2" height="1" fill="#000"/>
<text x="1585.3" y="386.05" font-family='"Liberation Sans", sans-serif' font-size="9.9" fill="#000" stroke="#000" stroke-width="0.25" text-anchor="start" textLength="32.7" lengthAdjust="spacingAndGlyphs">1.30090</text>
<rect x="1580" y="414.9" width="2" height="1" fill="#000"/>
<text x="1585.3" y="419.05" font-family='"Liberation Sans", sans-serif' font-size="9.9" fill="#000" stroke="#000" stroke-width="0.25" text-anchor="start" textLength="32.7" lengthAdjust="spacingAndGlyphs">1.29410</text>
<rect x="1580" y="447.9" width="2" height="1" fill="#000"/>
<text x="1585.3" y="452.05" font-family='"Liberation Sans", sans-serif' font-size="9.9" fill="#000" stroke="#000" stroke-width="0.25" text-anchor="start" textLength="32.7" lengthAdjust="spacingAndGlyphs">1.28730</text>
<rect x="1580" y="480.9" width="2" height="1" fill="#000"/>
<text x="1585.3" y="485.05" font-family='"Liberation Sans", sans-serif' font-size="9.9" fill="#000" stroke="#000" stroke-width="0.25" text-anchor="start" textLength="32.7" lengthAdjust="spacingAndGlyphs">1.28030</text>
<rect x="1580" y="513.9" width="2" height="1" fill="#000"/>
<text x="1585.3" y="518.05" font-family='"Liberation Sans", sans-serif' font-size="9.9" fill="#000" stroke="#000" stroke-width="0.25" text-anchor="start" textLength="32.7" lengthAdjust="spacingAndGlyphs">1.27350</text>
<rect x="1580" y="546.9" width="2" height="1" fill="#000"/>
<text x="1585.3" y="551.05" font-family='"Liberation Sans", sans-serif' font-size="9.9" fill="#000" stroke="#000" stroke-width="0.25" text-anchor="start" textLength="32.7" lengthAdjust="spacingAndGlyphs">1.26670</text>
<rect x="1581" y="236" width="38" height="10.7" fill="#ff0000"/>
<text x="1585.6" y="244.90" font-family='"Liberation Sans", sans-serif' font-size="9.9" fill="#fff" stroke="#fff" stroke-width="0.25" text-anchor="start" textLength="32.2" lengthAdjust="spacingAndGlyphs">1.33017</text>
<rect x="1581" y="314" width="38" height="10.7" fill="#ff0000"/>
<text x="1585.6" y="322.90" font-family='"Liberation Sans", sans-serif' font-size="9.9" fill="#fff" stroke="#fff" stroke-width="0.25" text-anchor="start" textLength="32.2" lengthAdjust="spacingAndGlyphs">1.31400</text>
<rect x="1581" y="404" width="38" height="10.7" fill="#00ff00"/>
<text x="1585.6" y="412.90" font-family='"Liberation Sans", sans-serif' font-size="9.9" fill="#fff" stroke="#fff" stroke-width="0.25" text-anchor="start" textLength="32.2" lengthAdjust="spacingAndGlyphs">1.29527</text>
<rect x="1581" y="475" width="38" height="10.7" fill="#0000ff"/>
<text x="1585.6" y="483.90" font-family='"Liberation Sans", sans-serif' font-size="9.9" fill="#fff" stroke="#fff" stroke-width="0.25" text-anchor="start" textLength="32.2" lengthAdjust="spacingAndGlyphs">1.28029</text>
<rect x="1581" y="524" width="38" height="10.7" fill="#0000ff"/>
<text x="1585.6" y="532.90" font-family='"Liberation Sans", sans-serif' font-size="9.9" fill="#fff" stroke="#fff" stroke-width="0.25" text-anchor="start" textLength="32.2" lengthAdjust="spacingAndGlyphs">1.27009</text>
<rect x="1581" y="458.2" width="38" height="10.7" fill="#000"/>
<text x="1585.6" y="467.2" font-family='"Liberation Sans", sans-serif' font-size="9.9" fill="#fff" stroke="#fff" stroke-width="0.25" text-anchor="start" textLength="32.2" lengthAdjust="spacingAndGlyphs">1.28421</text>
<rect x="1580" y="554" width="2" height="1" fill="#000"/>
<rect x="1580" y="647" width="2" height="1" fill="#000"/>
<text x="1583.3" y="562.9" font-family='"Liberation Sans", sans-serif' font-size="9.9" fill="#000" stroke="#000" stroke-width="0.25" text-anchor="start" textLength="14.3" lengthAdjust="spacingAndGlyphs">100</text>
<text x="1582.2" y="586.0" font-family='"Liberation Sans", sans-serif' font-size="9.9" fill="#000" stroke="#000" stroke-width="0.25" text-anchor="start" textLength="9.6" lengthAdjust="spacingAndGlyphs">70</text>
<text x="1582.2" y="622.8" font-family='"Liberation Sans", sans-serif' font-size="9.9" fill="#000" stroke="#000" stroke-width="0.25" text-anchor="start" textLength="9.6" lengthAdjust="spacingAndGlyphs">30</text>
<text x="1583.3" y="644.9" font-family='"Liberation Sans", sans-serif' font-size="9.9" fill="#000" stroke="#000" stroke-width="0.25" text-anchor="start" textLength="4.8" lengthAdjust="spacingAndGlyphs">0</text>
<rect x="1580" y="652" width="2" height="1" fill="#000"/>
<rect x="1580" y="688.6" width="2" height="1" fill="#000"/>
<rect x="1580" y="745" width="2" height="1" fill="#000"/>
<text x="1583.3" y="660.9" font-family='"Liberation Sans", sans-serif' font-size="9.9" fill="#000" stroke="#000" stroke-width="0.25" text-anchor="start" textLength="37.5" lengthAdjust="spacingAndGlyphs">0.006444</text>
<text x="1583.3" y="692.7" font-family='"Liberation Sans", sans-serif' font-size="9.9" fill="#000" stroke="#000" stroke-width="0.25" text-anchor="start" textLength="17.2" lengthAdjust="spacingAndGlyphs">0.00</text>
<text x="1583.3" y="742.7" font-family='"Liberation Sans", sans-serif' font-size="9.9" fill="#000" stroke="#000" stroke-width="0.25" text-anchor="start" textLength="41" lengthAdjust="spacingAndGlyphs">-0.009877</text>
<text x="18.2" y="34.9" font-family='"Liberation Sans", sans-serif' font-size="9.9" fill="#000" stroke="#000" stroke-width="0.25" text-anchor="start" textLength="65.8" lengthAdjust="spacingAndGlyphs">USDCAD,Daily</text>
<text x="90.2" y="34.9" font-family='"Liberation Sans", sans-serif' font-size="9.9" fill="#000" stroke="#000" stroke-width="0.25" text-anchor="start" textLength="32.6" lengthAdjust="spacingAndGlyphs">1.28408</text>
<text x="126.3" y="34.9" font-family='"Liberation Sans", sans-serif' font-size="9.9" fill="#000" stroke="#000" stroke-width="0.25" text-anchor="start" textLength="32.6" lengthAdjust="spacingAndGlyphs">1.28442</text>
<text x="162.4" y="34.9" font-family='"Liberation Sans", sans-serif' font-size="9.9" fill="#000" stroke="#000" stroke-width="0.25" text-anchor="start" textLength="32.6" lengthAdjust="spacingAndGlyphs">1.28120</text>
<text x="198.4" y="34.9" font-family='"Liberation Sans", sans-serif' font-size="9.9" fill="#000" stroke="#000" stroke-width="0.25" text-anchor="start" textLength="32.6" lengthAdjust="spacingAndGlyphs">1.28421</text>
<text x="7.1" y="564.9" font-family='"Liberation Sans", sans-serif' font-size="9.9" fill="#000" stroke="#000" stroke-width="0.25" text-anchor="start" textLength="67.7" lengthAdjust="spacingAndGlyphs">RSI(14) 47.4914</text>
<text x="7.1" y="662.9" font-family='"Liberation Sans", sans-serif' font-size="9.9" fill="#000" stroke="#000" stroke-width="0.25" text-anchor="start" textLength="153.8" lengthAdjust="spacingAndGlyphs">MACD(12,26,9) -0.003236 -0.006050</text>
<rect x="3" y="747" width="1" height="2.5" fill="#000"/>
<text x="2.5" y="759.1" font-family='"Liberation Sans", sans-serif' font-size="9.9" fill="#000" stroke="#000" stroke-width="0.25" text-anchor="start" textLength="49.8" lengthAdjust="spacingAndGlyphs">27 Jun 2020</text>
<rect x="67" y="747" width="1" height="2.5" fill="#000"/>
<text x="66.5" y="759.1" font-family='"Liberation Sans", sans-serif' font-size="9.9" fill="#000" stroke="#000" stroke-width="0.25" text-anchor="start" textLength="41.8" lengthAdjust="spacingAndGlyphs">7 Jul 2020</text>
<rect x="131" y="747" width="1" height="2.5" fill="#000"/>
<text x="130.5" y="759.1" font-family='"Liberation Sans", sans-serif' font-size="9.9" fill="#000" stroke="#000" stroke-width="0.25" text-anchor="start" textLength="46.9" lengthAdjust="spacingAndGlyphs">16 Jul 2020</text>
<rect x="195" y="747" width="1" height="2.5" fill="#000"/>
<text x="194.5" y="759.1" font-family='"Liberation Sans", sans-serif' font-size="9.9" fill="#000" stroke="#000" stroke-width="0.25" text-anchor="start" textLength="46.9" lengthAdjust="spacingAndGlyphs">25 Jul 2020</text>
<rect x="259" y="747" width="1" height="2.5" fill="#000"/>
<text x="258.5" y="759.1" font-family='"Liberation Sans", sans-serif' font-size="9.9" fill="#000" stroke="#000" stroke-width="0.25" text-anchor="start" textLength="47.3" lengthAdjust="spacingAndGlyphs">4 Aug 2020</text>
<rect x="323" y="747" width="1" height="2.5" fill="#000"/>
<text x="322.5" y="759.1" font-family='"Liberation Sans", sans-serif' font-size="9.9" fill="#000" stroke="#000" stroke-width="0.25" text-anchor="start" textLength="52.4" lengthAdjust="spacingAndGlyphs">13 Aug 2020</text>
<rect x="387" y="747" width="1" height="2.5" fill="#000"/>
<text x="386.5" y="759.1" font-family='"Liberation Sans", sans-serif' font-size="9.9" fill="#000" stroke="#000" stroke-width="0.25" text-anchor="start" textLength="52.4" lengthAdjust="spacingAndGlyphs">22 Aug 2020</text>
<rect x="451" y="747" width="1" height="2.5" fill="#000"/>
<text x="450.5" y="759.1" font-family='"Liberation Sans", sans-serif' font-size="9.9" fill="#000" stroke="#000" stroke-width="0.25" text-anchor="start" textLength="46.6" lengthAdjust="spacingAndGlyphs">1 Sep 2020</text>
<rect x="515" y="747" width="1" height="2.5" fill="#000"/>
<text x="514.5" y="759.1" font-family='"Liberation Sans", sans-serif' font-size="9.9" fill="#000" stroke="#000" stroke-width="0.25" text-anchor="start" textLength="51.7" lengthAdjust="spacingAndGlyphs">10 Sep 2020</text>
<rect x="579" y="747" width="1" height="2.5" fill="#000"/>
<text x="578.5" y="759.1" font-family='"Liberation Sans", sans-serif' font-size="9.9" fill="#000" stroke="#000" stroke-width="0.25" text-anchor="start" textLength="51.7" lengthAdjust="spacingAndGlyphs">19 Sep 2020</text>
<rect x="643" y="747" width="1" height="2.5" fill="#000"/>
<text x="642.5" y="759.1" font-family='"Liberation Sans", sans-serif' font-size="9.9" fill="#000" stroke="#000" stroke-width="0.25" text-anchor="start" textLength="51.7" lengthAdjust="spacingAndGlyphs">29 Sep 2020</text>
<rect x="707" y="747" width="1" height="2.5" fill="#000"/>
<text x="706.5" y="759.1" font-family='"Liberation Sans", sans-serif' font-size="9.9" fill="#000" stroke="#000" stroke-width="0.25" text-anchor="start" textLength="45.3" lengthAdjust="spacingAndGlyphs">8 Oct 2020</text>
<rect x="771" y="747" width="1" height="2.5" fill="#000"/>
<text x="770.5" y="759.1" font-family='"Liberation Sans", sans-serif' font-size="9.9" fill="#000" stroke="#000" stroke-width="0.25" text-anchor="start" textLength="50.4" lengthAdjust="spacingAndGlyphs">17 Oct 2020</text>
<rect x="835" y="747" width="1" height="2.5" fill="#000"/>
<text x="834.5" y="759.1" font-family='"Liberation Sans", sans-serif' font-size="9.9" fill="#000" stroke="#000" stroke-width="0.25" text-anchor="start" textLength="50.4" lengthAdjust="spacingAndGlyphs">27 Oct 2020</text>
<rect x="899" y="747" width="1" height="2.5" fill="#000"/>
<text x="898.5" y="759.1" font-family='"Liberation Sans", sans-serif' font-size="9.9" fill="#000" stroke="#000" stroke-width="0.25" text-anchor="start" textLength="48.6" lengthAdjust="spacingAndGlyphs">5 Nov 2020</text>
<rect x="963" y="747" width="1" height="2.5" fill="#000"/>
<text x="962.5" y="759.1" font-family='"Liberation Sans", sans-serif' font-size="9.9" fill="#000" stroke="#000" stroke-width="0.25" text-anchor="start" textLength="53.7" lengthAdjust="spacingAndGlyphs">14 Nov 2020</text>
<rect x="1027" y="747" width="1" height="2.5" fill="#000"/>
<text x="1026.5" y="759.1" font-family='"Liberation Sans", sans-serif' font-size="9.9" fill="#000" stroke="#000" stroke-width="0.25" text-anchor="start" textLength="53.7" lengthAdjust="spacingAndGlyphs">24 Nov 2020</text>
<rect x="1091" y="747" width="1" height="2.5" fill="#000"/>
<text x="1090.5" y="759.1" font-family='"Liberation Sans", sans-serif' font-size="9.9" fill="#000" stroke="#000" stroke-width="0.25" text-anchor="start" textLength="47.2" lengthAdjust="spacingAndGlyphs">3 Dec 2020</text>
<rect x="1155" y="747" width="1" height="2.5" fill="#000"/>
<text x="1154.5" y="759.1" font-family='"Liberation Sans", sans-serif' font-size="9.9" fill="#000" stroke="#000" stroke-width="0.25" text-anchor="start" textLength="52.2" lengthAdjust="spacingAndGlyphs">12 Dec 2020</text>
<rect x="1219" y="747" width="1" height="2.5" fill="#000"/>
<text x="1218.5" y="759.1" font-family='"Liberation Sans", sans-serif' font-size="9.9" fill="#000" stroke="#000" stroke-width="0.25" text-anchor="start" textLength="52.2" lengthAdjust="spacingAndGlyphs">22 Dec 2020</text>
<rect x="0" y="767" width="1619" height="1" fill="#e3e3e3"/>
<rect x="0" y="770" width="1619" height="20" fill="#f0f0f0"/>
<rect x="0" y="769" width="1619" height="1.3" fill="#000"/>
<rect x="313" y="769" width="102.5" height="18" fill="#fff"/>
<path d="M312.5,769 L312.5,787.5 L415.5,787.5 L415.5,769" fill="none" stroke="#000" stroke-width="1.2"/>
<rect x="314" y="788.2" width="103" height="1" fill="#b0b0b0"/>
<rect x="416.2" y="771" width="1" height="18" fill="#b0b0b0"/>
<text x="16.7" y="783.5" font-family='"Liberation Sans", sans-serif' font-size="12.9" fill="#6c6c6c" stroke="#6c6c6c" stroke-width="0.05" text-anchor="start" textLength="79.3" lengthAdjust="spacingAndGlyphs">EURUSD,Daily</text>
<text x="118.3" y="783.5" font-family='"Liberation Sans", sans-serif' font-size="12.9" fill="#6c6c6c" stroke="#6c6c6c" stroke-width="0.05" text-anchor="start" textLength="78.9" lengthAdjust="spacingAndGlyphs">USDCHF,Daily</text>
<text x="219.0" y="783.5" font-family='"Liberation Sans", sans-serif' font-size="12.9" fill="#6c6c6c" stroke="#6c6c6c" stroke-width="0.05" text-anchor="start" textLength="81.6" lengthAdjust="spacingAndGlyphs">AUDUSD,Daily</text>
<text x="426.0" y="783.5" font-family='"Liberation Sans", sans-serif' font-size="12.9" fill="#6c6c6c" stroke="#6c6c6c" stroke-width="0.05" text-anchor="start" textLength="83.0" lengthAdjust="spacingAndGlyphs">USDCNH,Daily</text>
<text x="532.3" y="783.5" font-family='"Liberation Sans", sans-serif' font-size="12.9" fill="#6c6c6c" stroke="#6c6c6c" stroke-width="0.05" text-anchor="start" textLength="79.7" lengthAdjust="spacingAndGlyphs">EURUSD,Daily</text>
<text x="636.0" y="783.5" font-family='"Liberation Sans", sans-serif' font-size="12.9" fill="#6c6c6c" stroke="#6c6c6c" stroke-width="0.05" text-anchor="start" textLength="67.3" lengthAdjust="spacingAndGlyphs">GBPUSD,H4</text>
<text x="726.0" y="783.5" font-family='"Liberation Sans", sans-serif' font-size="12.9" fill="#6c6c6c" stroke="#6c6c6c" stroke-width="0.05" text-anchor="start" textLength="94.7" lengthAdjust="spacingAndGlyphs">XAUUSD,Weekly</text>
<text x="843.3" y="783.5" font-family='"Liberation Sans", sans-serif' font-size="12.9" fill="#6c6c6c" stroke="#6c6c6c" stroke-width="0.05" text-anchor="start" textLength="48.7" lengthAdjust="spacingAndGlyphs">HK50,H1</text>
<text x="915.3" y="783.5" font-family='"Liberation Sans", sans-serif' font-size="12.9" fill="#6c6c6c" stroke="#6c6c6c" stroke-width="0.05" text-anchor="start" textLength="56.4" lengthAdjust="spacingAndGlyphs">UK100,H1</text>
<text x="995.3" y="783.5" font-family='"Liberation Sans", sans-serif' font-size="12.9" fill="#6c6c6c" stroke="#6c6c6c" stroke-width="0.05" text-anchor="start" textLength="56.4" lengthAdjust="spacingAndGlyphs">UK100,H1</text>
<text x="1075.3" y="783.5" font-family='"Liberation Sans", sans-serif' font-size="12.9" fill="#6c6c6c" stroke="#6c6c6c" stroke-width="0.05" text-anchor="start" textLength="56.4" lengthAdjust="spacingAndGlyphs">GER30,H1</text>
<text x="1154.0" y="783.5" font-family='"Liberation Sans", sans-serif' font-size="12.9" fill="#6c6c6c" stroke="#6c6c6c" stroke-width="0.05" text-anchor="start" textLength="54.3" lengthAdjust="spacingAndGlyphs">FRA40,H1</text>
<text x="1230.0" y="783.5" font-family='"Liberation Sans", sans-serif' font-size="12.9" fill="#6c6c6c" stroke="#6c6c6c" stroke-width="0.05" text-anchor="start" textLength="62.7" lengthAdjust="spacingAndGlyphs">USOil,Daily</text>
<text x="1314.0" y="783.5" font-family='"Liberation Sans", sans-serif' font-size="12.9" fill="#6c6c6c" stroke="#6c6c6c" stroke-width="0.05" text-anchor="start" textLength="62.0" lengthAdjust="spacingAndGlyphs">USDJPY,H1</text>
<text x="1398.5" y="783.5" font-family='"Liberation Sans", sans-serif' font-size="12.9" fill="#6c6c6c" stroke="#6c6c6c" stroke-width="0.05" text-anchor="start" textLength="58.5" lengthAdjust="spacingAndGlyphs">DJ30,Daily</text>
<text x="1478.5" y="783.5" font-family='"Liberation Sans", sans-serif' font-size="12.9" fill="#6c6c6c" stroke="#6c6c6c" stroke-width="0.05" text-anchor="start" textLength="77.7" lengthAdjust="spacingAndGlyphs">CHINA300,H1</text>
<text x="323.5" y="783.2" font-family='"Liberation Sans", sans-serif' font-size="12.9" fill="#000" stroke="#000" stroke-width="0.1" text-anchor="start" textLength="80.3" lengthAdjust="spacingAndGlyphs">USDCAD,Daily</text>
<defs><clipPath id="cu"><rect x="1570" y="770" width="19.5" height="20"/></clipPath></defs>
<g clip-path="url(#cu)">
<text x="1578.7" y="783.5" font-family='"Liberation Sans", sans-serif' font-size="12.9" fill="#6c6c6c" stroke="#6c6c6c" stroke-width="0.05" text-anchor="start">USDCAD</text>
</g>
<rect x="107.9" y="772.3" width="1.2" height="13.7" fill="#5a5a5a"/>
<rect x="207.8" y="772.3" width="1.2" height="13.7" fill="#5a5a5a"/>
<rect x="520.1" y="772.3" width="1.2" height="13.7" fill="#5a5a5a"/>
<rect x="623.7" y="772.3" width="1.2" height="13.7" fill="#5a5a5a"/>
<rect x="715.4" y="772.3" width="1.2" height="13.7" fill="#5a5a5a"/>
<rect x="831.4" y="772.3" width="1.2" height="13.7" fill="#5a5a5a"/>
<rect x="903.7" y="772.3" width="1.2" height="13.7" fill="#5a5a5a"/>
<rect x="983.7" y="772.3" width="1.2" height="13.7" fill="#5a5a5a"/>
<rect x="1063.7" y="772.3" width="1.2" height="13.7" fill="#5a5a5a"/>
<rect x="1143.7" y="772.3" width="1.2" height="13.7" fill="#5a5a5a"/>
<rect x="1220.1" y="772.3" width="1.2" height="13.7" fill="#5a5a5a"/>
<rect x="1303.7" y="772.3" width="1.2" height="13.7" fill="#5a5a5a"/>
<rect x="1387.8" y="772.3" width="1.2" height="13.7" fill="#5a5a5a"/>
<rect x="1467.9" y="772.3" width="1.2" height="13.7" fill="#5a5a5a"/>
<rect x="1567.6" y="772.3" width="1.2" height="13.7" fill="#5a5a5a"/>
<rect x="0" y="789" width="1619" height="1" fill="#fbfbfb"/>
<path d="M1598,775 L1598,781 L1594.5,778 Z" fill="#9a9a9a"/>
<path d="M1613.5,774.5 L1613.5,781.5 L1617.5,778 Z" fill="#000"/>
<text x="42.2" y="10.9" font-family='"Liberation Sans", sans-serif' font-size="9.7" fill="#3c3c3c" stroke="#3c3c3c" stroke-width="0.25" text-anchor="start" textLength="13.0" lengthAdjust="spacingAndGlyphs">M1</text>
<text x="70.4" y="10.9" font-family='"Liberation Sans", sans-serif' font-size="9.7" fill="#3c3c3c" stroke="#3c3c3c" stroke-width="0.25" text-anchor="start" textLength="12.9" lengthAdjust="spacingAndGlyphs">M5</text>
<text x="96.3" y="10.9" font-family='"Liberation Sans", sans-serif' font-size="9.7" fill="#3c3c3c" stroke="#3c3c3c" stroke-width="0.25" text-anchor="start" textLength="17.6" lengthAdjust="spacingAndGlyphs">M15</text>
<text x="124.4" y="10.9" font-family='"Liberation Sans", sans-serif' font-size="9.7" fill="#3c3c3c" stroke="#3c3c3c" stroke-width="0.25" text-anchor="start" textLength="17.8" lengthAdjust="spacingAndGlyphs">M30</text>
<text x="155.2" y="10.9" font-family='"Liberation Sans", sans-serif' font-size="9.7" fill="#3c3c3c" stroke="#3c3c3c" stroke-width="0.25" text-anchor="start" textLength="12.0" lengthAdjust="spacingAndGlyphs">H1</text>
<text x="182.4" y="10.9" font-family='"Liberation Sans", sans-serif' font-size="9.7" fill="#3c3c3c" stroke="#3c3c3c" stroke-width="0.25" text-anchor="start" textLength="12.6" lengthAdjust="spacingAndGlyphs">H4</text>
<text x="211.5" y="10.9" font-family='"Liberation Sans", sans-serif' font-size="9.7" fill="#3c3c3c" stroke="#3c3c3c" stroke-width="0.25" text-anchor="start" textLength="11.5" lengthAdjust="spacingAndGlyphs">D1</text>
<text x="238.9" y="10.9" font-family='"Liberation Sans", sans-serif' font-size="9.7" fill="#3c3c3c" stroke="#3c3c3c" stroke-width="0.25" text-anchor="start" textLength="13.9" lengthAdjust="spacingAndGlyphs">W1</text>
<text x="265.7" y="10.9" font-family='"Liberation Sans", sans-serif' font-size="9.7" fill="#3c3c3c" stroke="#3c3c3c" stroke-width="0.25" text-anchor="start" textLength="14.3" lengthAdjust="spacingAndGlyphs">MN</text>
</svg>
</body></html>
